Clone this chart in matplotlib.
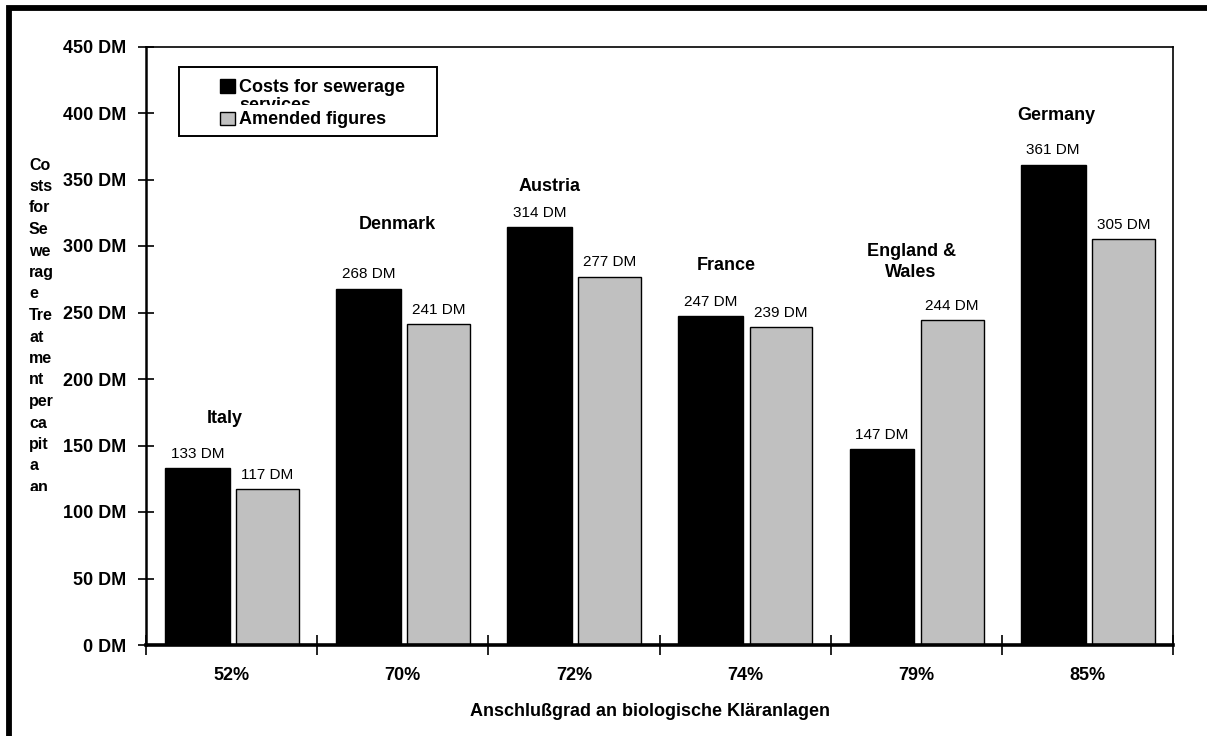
import matplotlib
matplotlib.use("Agg")
import matplotlib.pyplot as plt
from matplotlib.patches import Rectangle
from matplotlib.lines import Line2D
from matplotlib.transforms import Affine2D, Bbox

plt.rcParams["font.family"] = ["Liberation Sans", "DejaVu Sans"]

# ---- data -------------------------------------------------------------
countries = ["Italy", "Denmark", "Austria", "France", "England &\nWales", "Germany"]
connection_rates = ["52%", "70%", "72%", "74%", "79%", "85%"]
sewerage_costs = [133, 268, 314, 247, 147, 361]
amended_costs = [117, 241, 277, 239, 244, 305]
y_ticks = [0, 50, 100, 150, 200, 250, 300, 350, 400, 450]

legend_labels = ["Costs for sewerage services", "Amended figures"]
x_title = "Anschlußgrad an biologische Kläranlagen"
y_title_lines = ["Co", "sts", "for", "Se", "we", "rag", "e", "Tre", "at",
                 "me", "nt", "per", "ca", "pit", "a", "an"]

# country label placement: horizontal shift (group units) and height (DM)
country_dx = [-0.04, -0.03, -0.14, -0.11, -0.03, -0.18]
country_y = [170, 316, 345, 285, 288, 398]

BLACK = "#000000"
GREY = "#C0C0C0"

W, H = 1207, 736
fig = plt.figure(figsize=(W / 100, H / 100), dpi=100)
fig.patch.set_facecolor("white")

# pixel transform: (x right, y down) from the top-left corner
pix = Affine2D().scale(1, -1).translate(0, H)

ax = fig.add_axes([146 / W, 1 - 645 / H, (1173 - 146) / W, (645 - 46.5) / H])
ax.set_xlim(0, 6)
ax.set_ylim(0, 450)

n = len(countries)
centers = [i + 0.5 for i in range(n)]
bw = 0.378
x_black = [c - 0.2 for c in centers]
x_grey = [c + 0.21 for c in centers]

ax.bar(x_black, sewerage_costs, bw, color=BLACK, edgecolor=BLACK, linewidth=1, zorder=2)
ax.bar(x_grey, amended_costs, bw * 0.97, color=GREY, edgecolor=BLACK, linewidth=1, zorder=2)

# value labels
for xs, vals in ((x_black, sewerage_costs), (x_grey, amended_costs)):
    for x, v in zip(xs, vals):
        ax.annotate(f"{v} DM", (x, v), xytext=(0, 10.5), textcoords="offset points",
                    ha="center", va="center", fontsize=11)

# country labels
for c, name, dx, yv in zip(centers, countries, country_dx, country_y):
    ax.text(c + dx, yv, name, ha="center", va="center", fontsize=13,
            fontweight="bold", linespacing=1.3)

# spines
for side in ("top", "right"):
    ax.spines[side].set_linewidth(1.2)
ax.spines["left"].set_linewidth(1.8)
ax.spines["bottom"].set_linewidth(2.6)

# y axis
ax.set_yticks(y_ticks)
ax.set_yticklabels([f"{v} DM" for v in y_ticks], fontsize=13, fontweight="bold")
ax.tick_params(axis="y", direction="inout", length=12, width=1.2, pad=8)

# x axis: boundary ticks, labels at group centres
ax.set_xticks(range(n + 1))
ax.set_xticklabels([])
ax.tick_params(axis="x", which="major", direction="inout", length=14, width=1.2)
ax.set_xticks(centers, minor=True)
ax.set_xticklabels(connection_rates, minor=True, fontsize=13, fontweight="bold")
ax.tick_params(axis="x", which="minor", length=0, pad=16)

# axis titles
fig.text(650, 711, x_title, transform=pix, ha="center", va="center",
         fontsize=13, fontweight="bold")

for k, line in enumerate(y_title_lines):
    t = fig.text(29, 165 + k * 21.5, line, transform=pix, ha="left", va="center",
                 fontsize=11.5, fontweight="bold")
    t.set_clip_box(Bbox.from_extents(0, H - 491, 200, H))
    t.set_clip_on(True)

# legend box
fig.add_artist(Rectangle((179, 67), 258, 69, transform=pix, facecolor="white",
                         edgecolor=BLACK, linewidth=1.4, zorder=5))
fig.add_artist(Rectangle((220, 79), 15, 14, transform=pix, facecolor=BLACK,
                         edgecolor=BLACK, linewidth=1, zorder=6))
fig.add_artist(Rectangle((220, 112), 15, 13, transform=pix, facecolor=GREY,
                         edgecolor=BLACK, linewidth=1, zorder=6))
first, rest = legend_labels[0].rsplit(" ", 1)
fig.text(239, 92, first, transform=pix, ha="left", va="baseline",
         fontsize=13, fontweight="bold", zorder=7)
wrapped = fig.text(239, 110, rest, transform=pix, ha="left", va="baseline",
                   fontsize=13, fontweight="bold", zorder=7)
wrapped.set_clip_box(Bbox.from_extents(230, H - 104.5, 436, H - 90))
wrapped.set_clip_on(True)
fig.text(239, 124, legend_labels[1], transform=pix, ha="left", va="baseline",
         fontsize=13, fontweight="bold", zorder=7)

# frame line along the top and left edges
fig.add_artist(Line2D([9, 9, W + 5], [H + 5, 7.5, 7.5], transform=pix,
                      color=BLACK, linewidth=4.2, solid_joinstyle="miter",
                      solid_capstyle="projecting"))

fig.savefig("out.png", dpi=100, facecolor="white")
